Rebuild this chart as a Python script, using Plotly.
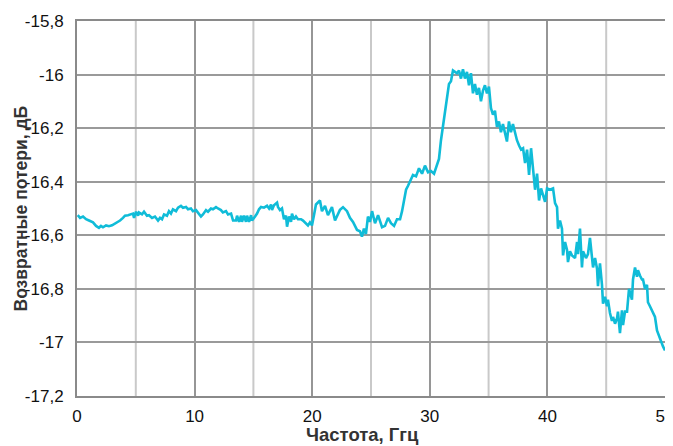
import plotly.graph_objects as go

freq_ghz = [
    0.06, 0.26, 0.51, 0.77, 1.02, 1.36, 1.62, 1.87, 2.04, 2.21, 2.47, 2.72, 2.98, 3.23, 3.49, 3.66,
    3.91, 4.08, 4.34, 4.51, 4.76, 4.85, 5.02, 5.19, 5.27, 5.53, 5.70, 5.95, 6.12, 6.38, 6.63,
    6.89, 7.06, 7.23, 7.40, 7.65, 7.82, 7.99, 8.16, 8.42, 8.59, 8.84, 9.01, 9.27, 9.44, 9.69, 9.86,
    10.12, 10.29, 10.54, 10.71, 10.97, 11.14, 11.39, 11.56, 11.82, 11.99, 12.24, 12.41, 12.67, 12.84,
    13.10, 13.27, 13.52, 13.61, 13.78, 13.95, 14.03, 14.20, 14.37, 14.46, 14.63, 14.80, 14.88, 15.14,
    15.31, 15.48, 15.65, 15.90, 16.16, 16.33, 16.50, 16.58, 16.75, 17.01, 17.09, 17.26, 17.43, 17.60,
    17.77, 17.86, 18.03, 18.20, 18.28, 18.45, 18.62, 18.79, 19.05, 19.22, 19.47, 19.64, 19.81, 19.98,
    20.15, 20.32, 20.66, 20.83, 21.09, 21.34, 21.68, 21.94, 22.36, 22.62, 22.96, 23.21, 23.47, 23.81,
    24.06, 24.23, 24.40, 24.57, 24.74, 24.91, 25.09, 25.34, 25.60, 25.94, 26.19, 26.45, 26.70, 26.96,
    27.21, 27.47, 27.64, 27.81, 27.98, 28.15, 28.32, 28.57, 28.83, 29.08, 29.34, 29.59, 29.85, 30.10,
    30.36, 30.53, 30.78, 30.95, 31.12, 31.29, 31.46, 31.63, 31.80, 31.97, 32.14, 32.31, 32.48, 32.65,
    32.82, 32.99, 33.16, 33.33, 33.50, 33.67, 33.84, 34.01, 34.18, 34.35, 34.52, 34.69, 34.86, 35.03,
    35.20, 35.37, 35.54, 35.71, 35.88, 36.05, 36.22, 36.39, 36.56, 36.73, 36.90, 37.07, 37.24, 37.41,
    37.59, 37.76, 37.93, 38.10, 38.27, 38.44, 38.61, 38.78, 38.95, 39.12, 39.29, 39.46, 39.63, 39.80,
    39.97, 40.22, 40.48, 40.65, 40.82, 40.90, 41.07, 41.24, 41.33, 41.50, 41.67, 41.75, 41.92, 42.09,
    42.35, 42.52, 42.60, 42.77, 42.94, 43.03, 43.28, 43.45, 43.62, 43.79, 43.88, 44.05, 44.22, 44.30,
    44.47, 44.64, 44.73, 44.90, 45.07, 45.15, 45.32, 45.49, 45.58, 45.75, 45.92, 46.00, 46.17, 46.34,
    46.43, 46.60, 46.77, 46.94, 47.19, 47.28, 47.45, 47.62, 47.70, 47.87, 48.04, 48.13, 48.30, 48.47,
    48.55, 48.72, 48.89, 48.98, 49.15, 49.32, 49.40, 49.57, 49.74, 49.83, 50.00,
]

return_loss_db = [
    -16.525, -16.535, -16.530, -16.540, -16.545, -16.552, -16.565, -16.572, -16.565, -16.570, -16.563,
    -16.566, -16.563, -16.556, -16.552, -16.545, -16.535, -16.527, -16.525, -16.522, -16.519, -16.535,
    -16.512, -16.527, -16.515, -16.522, -16.512, -16.527, -16.525, -16.535, -16.530,
    -16.545, -16.535, -16.540, -16.522, -16.527, -16.510, -16.519, -16.503, -16.510, -16.497, -16.490,
    -16.497, -16.494, -16.503, -16.500, -16.510,
    -16.506, -16.515, -16.530, -16.522, -16.506, -16.512, -16.500, -16.503, -16.495, -16.500, -16.506,
    -16.515, -16.510, -16.522,
    -16.519, -16.545, -16.545, -16.527, -16.550, -16.527, -16.550, -16.527, -16.550, -16.527, -16.550,
    -16.525, -16.545, -16.530,
    -16.519, -16.503, -16.494, -16.497, -16.490, -16.500, -16.485, -16.506, -16.488, -16.478, -16.494,
    -16.506, -16.500, -16.540,
    -16.527, -16.568, -16.530, -16.550, -16.519, -16.540, -16.530, -16.540, -16.540, -16.545, -16.556,
    -16.563, -16.552, -16.563,
    -16.525, -16.485, -16.470, -16.510, -16.490, -16.525, -16.495, -16.545, -16.505, -16.495, -16.510,
    -16.535, -16.550, -16.580,
    -16.585, -16.605, -16.575, -16.595, -16.530, -16.550, -16.510, -16.555, -16.525, -16.570, -16.565,
    -16.535, -16.555, -16.565,
    -16.540, -16.540, -16.510, -16.475, -16.430, -16.415, -16.400, -16.375, -16.380, -16.350, -16.370,
    -16.340, -16.365, -16.360,
    -16.370, -16.345, -16.315, -16.245, -16.195, -16.140, -16.085, -16.035, -16.025, -15.985, -15.990,
    -15.995, -15.985, -16.015,
    -15.980, -16.015, -15.990, -16.040, -15.995, -16.070, -16.035, -16.075, -16.050, -16.100, -16.060,
    -16.040, -16.070, -16.045,
    -16.125, -16.150, -16.135, -16.195, -16.175, -16.215, -16.185, -16.215, -16.250, -16.175, -16.215,
    -16.185, -16.220, -16.245,
    -16.265, -16.280, -16.275, -16.330, -16.280, -16.375, -16.275, -16.345, -16.430, -16.370, -16.470,
    -16.425, -16.450, -16.475,
    -16.425, -16.430, -16.425, -16.480, -16.495, -16.575, -16.545, -16.575, -16.675, -16.625, -16.655,
    -16.700, -16.660, -16.675,
    -16.685, -16.625, -16.670, -16.575, -16.720, -16.660, -16.685, -16.670, -16.610, -16.695, -16.720,
    -16.685, -16.725, -16.790,
    -16.705, -16.785, -16.855, -16.830, -16.865, -16.840, -16.890, -16.920, -16.905, -16.930, -16.910,
    -16.885, -16.965, -16.880,
    -16.935, -16.885, -16.885, -16.800, -16.840, -16.765, -16.720, -16.755, -16.730, -16.750, -16.765,
    -16.765, -16.800, -16.785,
    -16.850, -16.865, -16.880, -16.890, -16.905, -16.955, -16.965, -16.985, -17.005, -17.015, -17.030,
]

x_ticks = [0, 10, 20, 30, 40, 50]
x_tick_labels = ["0", "10", "20", "30", "40", "50"]
y_ticks = [-17.2, -17.0, -16.8, -16.6, -16.4, -16.2, -16.0, -15.8]
y_tick_labels = ["-17,2", "-17", "-16,8", "-16,6", "-16,4", "-16,2", "-16", "-15,8"]
x_minor_grid = [5, 15, 25, 35, 45]

x_title = "Частота, Ггц"
y_title = "Возвратные потери, дБ"

FONT = "Liberation Sans, Arial, sans-serif"

fig = go.Figure()
fig.add_trace(go.Scatter(
    x=freq_ghz, y=return_loss_db, mode="lines",
    line=dict(color="#10BCD8", width=2.6),
    showlegend=False, hoverinfo="skip",
))

# minor vertical gridlines (lighter)
for xv in x_minor_grid:
    fig.add_shape(type="line", xref="x", yref="paper", x0=xv, x1=xv, y0=0, y1=1,
                  line=dict(color="#c9c9c9", width=2), layer="below")

# page body has an 8px margin, so the figure is sized/offset to compensate
fig.update_layout(
    width=665, height=438,
    margin=dict(l=69, r=8, t=13, b=50, autoexpand=False),
    paper_bgcolor="white", plot_bgcolor="white",
    font=dict(family=FONT, size=17, color="#111111"),
    xaxis=dict(
        range=[0, 50], tickvals=x_ticks, ticktext=x_tick_labels, automargin=False,
        showgrid=True, gridcolor="#969696", gridwidth=2,
        showline=True, linecolor="#8a8a8a", linewidth=2, mirror=True,
        zeroline=False, ticks="", tickfont=dict(size=17, color="#111111"),
        ticklabelstandoff=4, ticklabeloverflow="allow",
    ),
    yaxis=dict(
        range=[-17.2, -15.8], tickvals=y_ticks, ticktext=y_tick_labels, automargin=False,
        showgrid=True, gridcolor="#9a9a9a", gridwidth=2,
        showline=True, linecolor="#8a8a8a", linewidth=2, mirror=True,
        zeroline=False, ticks="", tickfont=dict(size=17, color="#111111"),
        ticklabelstandoff=8, ticklabeloverflow="allow",
    ),
    annotations=[
        dict(text=f"<b>{x_title}</b>", xref="paper", yref="paper", x=0.5, y=0,
             xanchor="center", yanchor="middle", yshift=-38, xshift=-9, showarrow=False,
             font=dict(family=FONT, size=18.5, color="#333333")),
        dict(text=f"<b>{y_title}</b>", xref="paper", yref="paper", x=0, y=0.5,
             xanchor="center", yanchor="middle", xshift=-57, textangle=-90, showarrow=False,
             font=dict(family=FONT, size=17.5, color="#333333")),
    ],
)

fig.write_html("out.html")
